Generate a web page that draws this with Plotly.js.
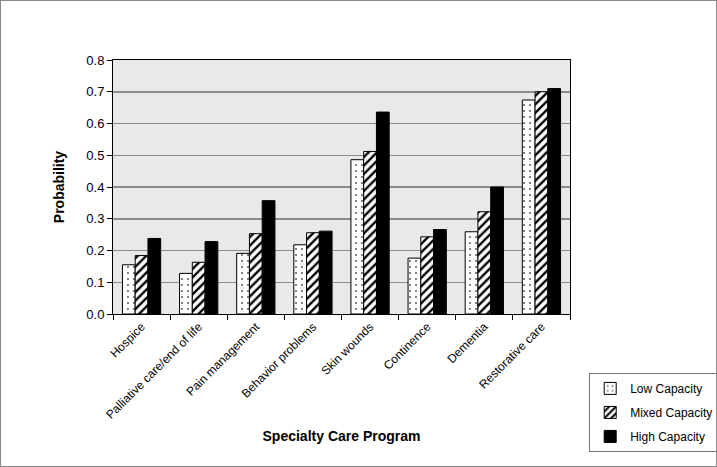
<!DOCTYPE html>
<html>
<head>
<meta charset="utf-8">
<script src="https://cdn.plot.ly/plotly-3.0.1.min.js"></script>
<style>
html,body{margin:0;padding:0;background:#fff;}
#frame{width:715px;height:465px;border:1px solid #8a8a8a;}
#chart{width:715px;height:465px;}
</style>
</head>
<body>
<div id="frame"><div id="chart"></div></div>
<script>
const categories = ["Hospice", "Palliative care/end of life", "Pain management", "Behavior problems", "Skin wounds", "Continence", "Dementia", "Restorative care"];
const seriesNames = ["Low Capacity", "Mixed Capacity", "High Capacity"];
const lowCapacity = [0.155, 0.128, 0.191, 0.218, 0.486, 0.176, 0.259, 0.674];
const mixedCapacity = [0.184, 0.163, 0.253, 0.256, 0.512, 0.243, 0.322, 0.700];
const highCapacity = [0.238, 0.228, 0.357, 0.261, 0.636, 0.266, 0.400, 0.710];
const yTicks = [0, 0.1, 0.2, 0.3, 0.4, 0.5, 0.6, 0.7, 0.8];

const font = "Liberation Sans, Arial, sans-serif";

function barTrace(name, values, pattern, color, group) {
  return {
    type: "bar",
    name: name,
    x: categories,
    y: values,
    legendgroup: group,
    marker: {
      color: color,
      line: {color: "#000", width: 1},
      pattern: pattern
    },
    hoverinfo: "x+y+name"
  };
}

const data = [
  barTrace(seriesNames[0], lowCapacity, {shape: ".", fgcolor: "#666", bgcolor: "#fff", size: 6, solidity: 0.1}, "#fff", "a"),
  barTrace(seriesNames[1], mixedCapacity, {shape: "/", fgcolor: "#000", bgcolor: "#fff", size: 6, solidity: 0.4}, "#fff", "b"),
  barTrace(seriesNames[2], highCapacity, {shape: ""}, "#000", "c")
];

const layout = {
  width: 715,
  height: 465,
  margin: {l: 112, r: 146, t: 59, b: 152, pad: 0, autoexpand: false},
  paper_bgcolor: "#fff",
  plot_bgcolor: "#e9e9e9",
  font: {family: font, size: 13, color: "#000"},
  barmode: "group",
  bargap: 0.33,
  bargroupgap: 0,
  showlegend: true,
  legend: {
    x: 1.042, y: -0.232, xanchor: "left", yanchor: "top",
    bordercolor: "#777", borderwidth: 1, bgcolor: "#fff",
    font: {family: font, size: 12, color: "#000"},
    traceorder: "grouped",
    tracegroupgap: 5,
    itemwidth: 30
  },
  xaxis: {
    type: "category",
    tickangle: -45,
    tickson: "boundaries",
    ticks: "outside",
    ticklen: 5,
    tickcolor: "#000",
    showline: true,
    linecolor: "#000",
    linewidth: 1,
    mirror: true,
    showgrid: false,
    tickfont: {family: font, size: 12, color: "#000"},
    automargin: false,
    title: {text: "Specialty Care Program", font: {family: font, size: 14, color: "#000", weight: "bold"}, standoff: 10}
  },
  yaxis: {
    range: [0, 0.8],
    tickvals: yTicks,
    tickformat: ".1f",
    ticks: "outside",
    ticklen: 5,
    tickcolor: "#000",
    showline: true,
    linecolor: "#000",
    linewidth: 1,
    mirror: true,
    showgrid: true,
    gridcolor: "#8c8c8c",
    gridwidth: 1.5,
    zeroline: false,
    automargin: false,
    tickfont: {family: font, size: 13, color: "#000"},
    title: {text: "Probability", font: {family: font, size: 14, color: "#000", weight: "bold"}, standoff: 18}
  }
};

Plotly.newPlot("chart", data, layout, {displayModeBar: false, staticPlot: true});
</script>
</body>
</html>
